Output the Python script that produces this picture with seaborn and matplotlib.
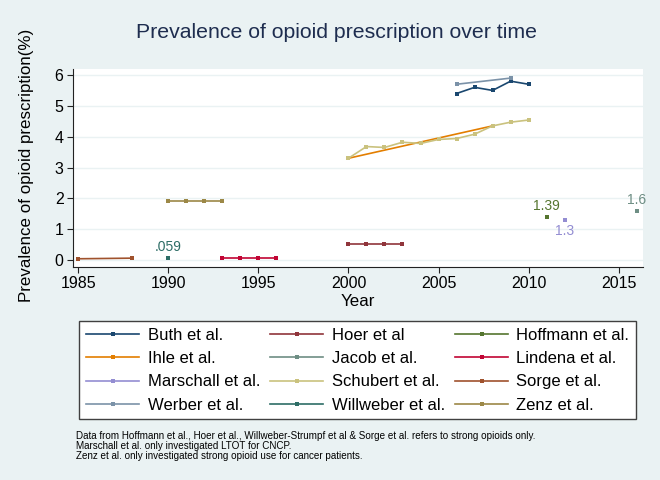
import pandas as pd
import matplotlib.pyplot as plt
import seaborn as sns

# studies in legend order, one Stata s2color colour each
studies = ["Buth et al.", "Hoer et al", "Hoffmann et al.",
           "Ihle et al.", "Jacob et al.", "Lindena et al.",
           "Marschall et al.", "Schubert et al.", "Sorge et al.",
           "Werber et al.", "Willweber et al.", "Zenz et al."]
colors = ["#1a476f", "#90353b", "#55752f",
          "#e37e00", "#6e8e84", "#c10534",
          "#938dd2", "#cac27e", "#a0522d",
          "#7b92a8", "#2d6d66", "#9c8847"]

buth_years = [2006, 2007, 2008, 2009, 2010]
buth_vals = [5.4, 5.6, 5.5, 5.8, 5.7]
hoer_years = [2000, 2001, 2002, 2003]
hoer_vals = [0.53, 0.53, 0.53, 0.53]
hoffmann_years = [2011]
hoffmann_vals = [1.39]
ihle_years = [2000, 2008]
ihle_vals = [3.3, 4.35]
jacob_years = [2016]
jacob_vals = [1.6]
lindena_years = [1993, 1994, 1995, 1996]
lindena_vals = [0.08, 0.08, 0.08, 0.08]
marschall_years = [2012]
marschall_vals = [1.3]
schubert_years = [2000, 2001, 2002, 2003, 2004, 2005, 2006, 2007, 2008, 2009, 2010]
schubert_vals = [3.3, 3.68, 3.65, 3.82, 3.78, 3.91, 3.94, 4.08, 4.35, 4.47, 4.54]
sorge_years = [1985, 1988]
sorge_vals = [0.04, 0.06]
werber_years = [2006, 2009]
werber_vals = [5.7, 5.9]
willweber_years = [1990]
willweber_vals = [0.059]
zenz_years = [1990, 1991, 1992, 1993]
zenz_vals = [1.9, 1.9, 1.9, 1.9]

all_years = [buth_years, hoer_years, hoffmann_years, ihle_years, jacob_years,
             lindena_years, marschall_years, schubert_years, sorge_years,
             werber_years, willweber_years, zenz_years]
all_vals = [buth_vals, hoer_vals, hoffmann_vals, ihle_vals, jacob_vals,
            lindena_vals, marschall_vals, schubert_vals, sorge_vals,
            werber_vals, willweber_vals, zenz_vals]

# value labels shown next to single points
label_studies = ["Willweber et al.", "Hoffmann et al.", "Marschall et al.", "Jacob et al."]
label_texts = [".059", "1.39", "1.3", "1.6"]
label_above = [True, True, False, True]

rows = []
for s, ys, vs in zip(studies, all_years, all_vals):
    for y, v in zip(ys, vs):
        rows.append({"study": s, "year": y, "value": v})
df = pd.DataFrame(rows)

bg = "#eaf2f3"
plt.rcParams["font.family"] = ["Liberation Sans", "DejaVu Sans"]

fig = plt.figure(figsize=(6.6, 4.8), dpi=100, facecolor=bg)
ax = fig.add_axes([73 / 660, 1 - 267 / 480, 570 / 660, 198 / 480])
ax.set_facecolor("white")

sns.lineplot(data=df, x="year", y="value", hue="study", hue_order=studies,
             palette=dict(zip(studies, colors)), marker="s", markersize=3,
             markeredgewidth=0, linewidth=1.2, errorbar=None, ax=ax)

for s, t, up in zip(label_studies, label_texts, label_above):
    sub = df[df["study"] == s]
    c = colors[studies.index(s)]
    ax.annotate(t, (sub["year"].iloc[0], sub["value"].iloc[0]),
                xytext=(0, 3 if up else -3), textcoords="offset points",
                ha="center", va="bottom" if up else "top",
                fontsize=10, color=c)

ax.set_xlim(1984.71, 2016.35)
ax.set_ylim(-0.227, 6.195)
ax.set_xticks([1985, 1990, 1995, 2000, 2005, 2010, 2015])
ax.set_yticks([0, 1, 2, 3, 4, 5, 6])
ax.grid(axis="y", color=bg, linewidth=1)
ax.set_axisbelow(True)
for side in ["top", "right"]:
    ax.spines[side].set_visible(False)
for side in ["left", "bottom"]:
    ax.spines[side].set_color("#222222")
    ax.spines[side].set_linewidth(0.8)
ax.tick_params(labelsize=11.5, length=4.3, width=0.8, color="#222222", pad=2.5)
ax.set_xlabel("")
ax.set_ylabel("")

fig.text(337 / 660, 1 - 38 / 480, "Prevalence of opioid prescription over time",
         ha="center", va="baseline", fontsize=15.3, color="#1e2d4f")
fig.text(27 / 660, 1 - 165 / 480, "Prevalence of opioid prescription(%)",
         rotation=90, ha="center", va="center", fontsize=12.2)
fig.text(358 / 660, 1 - 301 / 480, "Year", ha="center", va="center", fontsize=12.2)

# legend filled row by row, 3 columns
handles, labels = ax.get_legend_handles_labels()
ax.get_legend().remove()
order = [i for c in range(3) for i in range(c, len(labels), 3)]
fig.legend([handles[i] for i in order], [labels[i] for i in order], ncol=3,
           loc="upper left", bbox_to_anchor=(79 / 660, 1 - 321 / 480),
           frameon=True, fancybox=False, edgecolor="#404040", facecolor="white",
           framealpha=1, fontsize=12, handlelength=3.2, handletextpad=0.5,
           columnspacing=0.6, labelspacing=0.49, borderpad=0.42, borderaxespad=0)

fig.text(76 / 660, 1 - 431 / 480,
         "Data from Hoffmann et al., Hoer et al., Willweber-Strumpf et al & Sorge et al. refers to strong opioids only.\n"
         "Marschall et al. only investigated LTOT for CNCP.\n"
         "Zenz et al. only investigated strong opioid use for cancer patients.",
         ha="left", va="top", fontsize=7.15, linespacing=1.0)

fig.savefig("out.png", dpi=100, facecolor=bg)
